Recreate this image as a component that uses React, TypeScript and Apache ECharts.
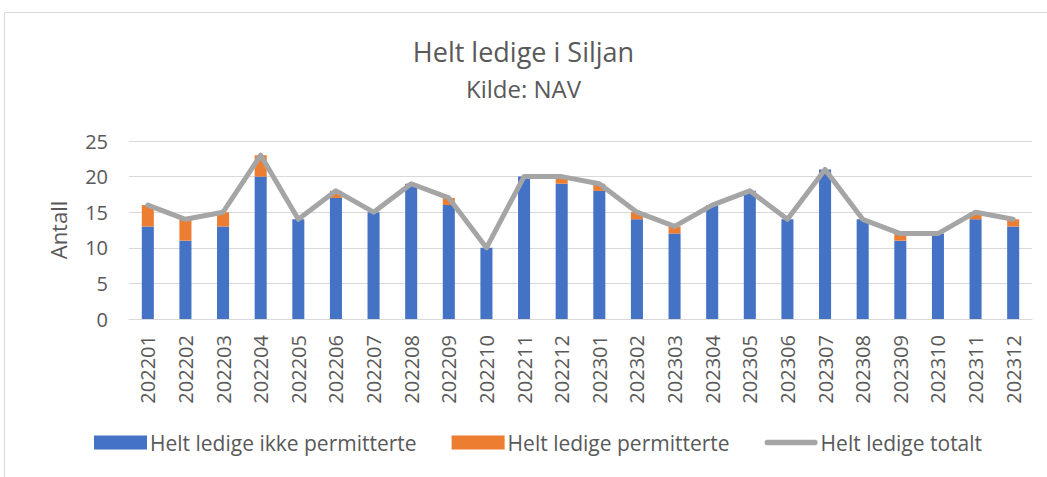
import React, { useEffect, useRef } from "react";
import * as echarts from "echarts";

const categories = ["202201","202202","202203","202204","202205","202206","202207","202208","202209","202210","202211","202212","202301","202302","202303","202304","202305","202306","202307","202308","202309","202310","202311","202312"];
const ikkePermitterte = [13,11,13,20,14,17,15,19,16,10,20,19,18,14,12,16,18,14,21,14,11,12,14,13];
const permitterte = [3,3,2,3,0,1,0,0,1,0,0,1,1,1,1,0,0,0,0,0,1,0,1,1];
const totalt = [16,14,15,23,14,18,15,19,17,10,20,20,19,15,13,16,18,14,21,14,12,12,15,14];
const yTicks = [0, 5, 10, 15, 20, 25];

const FONT = "'Open Sans', 'Noto Sans', sans-serif";
const TXT = "#595959";

export default function App() {
  const ref = useRef<HTMLDivElement>(null);
  useEffect(() => {
    const chart = echarts.init(ref.current!, null, { renderer: "svg" });
    chart.setOption({
      animation: false,
      textStyle: { fontFamily: FONT },
      title: {
        text: "Helt ledige i Siljan",
        subtext: "Kilde: NAV",
        left: "center",
        top: 33,
        itemGap: 11,
        textStyle: { fontFamily: FONT, fontSize: 27, fontWeight: "normal", color: TXT },
        subtextStyle: { fontFamily: FONT, fontSize: 24, color: TXT },
      },
      graphic: [
        {
          type: "rect",
          shape: { x: 4.5, y: 12.5, width: 1100, height: 500 },
          style: { fill: "none", stroke: "#d9d9d9", lineWidth: 1 },
          silent: true,
        },
      ],
      legend: {
        bottom: 24,
        left: 94,
        padding: 0,
        itemGap: 35,
        itemWidth: 53,
        itemHeight: 14,
        symbolKeepAspect: true,
        textStyle: { fontFamily: FONT, fontSize: 21, color: TXT, padding: [0, 0, 0, -2] },
        data: [
          { name: "Helt ledige ikke permitterte", icon: "rect" },
          { name: "Helt ledige permitterte", icon: "rect" },
          {
            name: "Helt ledige totalt",
            icon: "path://M3,0 L57,0 A3,3 0 0 1 57,6 L3,6 A3,3 0 0 1 3,0 Z",
            itemStyle: { color: "#A5A5A5" },
          },
        ],
      },
      grid: { left: 129, right: 15, top: 141, bottom: 158, containLabel: false },
      xAxis: {
        type: "category",
        data: categories,
        axisTick: { show: false },
        axisLine: { lineStyle: { color: "#d9d9d9", width: 1 } },
        axisLabel: { rotate: 90, fontSize: 20, color: TXT, fontFamily: FONT, margin: 16 },
      },
      yAxis: {
        type: "value",
        min: yTicks[0],
        max: yTicks[yTicks.length - 1],
        interval: 5,
        name: "Antall",
        nameLocation: "middle",
        nameGap: 60,
        nameRotate: 90,
        nameTextStyle: { fontFamily: FONT, fontSize: 22, color: TXT },
        axisLabel: { fontSize: 20, color: TXT, fontFamily: FONT, margin: 21 },
        splitLine: { lineStyle: { color: "#d9d9d9", width: 1 } },
        axisLine: { show: false },
        axisTick: { show: false },
      },
      series: [
        {
          name: "Helt ledige ikke permitterte",
          type: "bar",
          stack: "a",
          data: ikkePermitterte,
          barWidth: "32%",
          itemStyle: { color: "#4472C4" },
        },
        {
          name: "Helt ledige permitterte",
          type: "bar",
          stack: "a",
          data: permitterte,
          barWidth: "32%",
          itemStyle: { color: "#ED7D31" },
        },
        {
          name: "Helt ledige totalt",
          type: "line",
          data: totalt,
          symbol: "none",
          lineStyle: { color: "#A5A5A5", width: 5, cap: "round", join: "round" },
          itemStyle: { color: "#A5A5A5" },
        },
      ],
    });
    return () => chart.dispose();
  }, []);
  return (
    <div
      ref={ref}
      style={{ position: "fixed", left: 0, top: 0, width: 1047, height: 477, background: "#fff" }}
    />
  );
}
